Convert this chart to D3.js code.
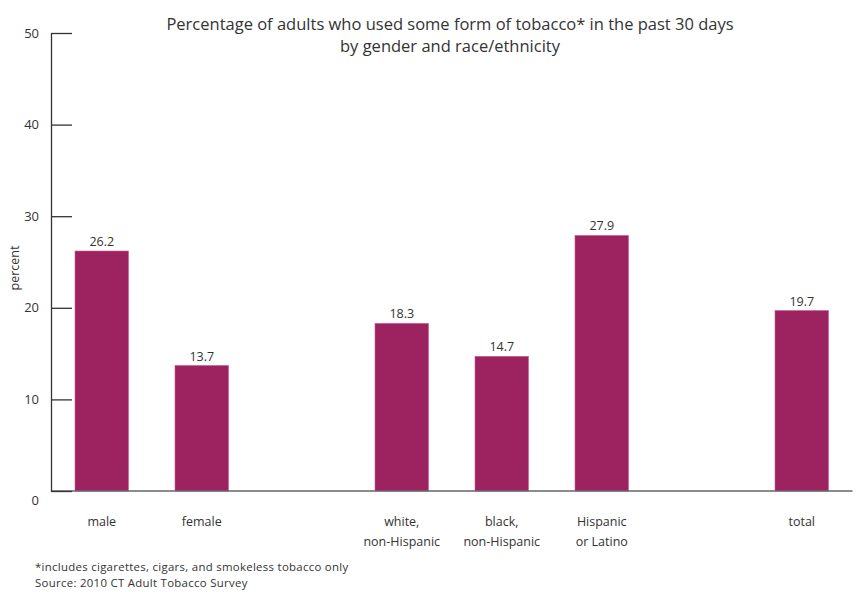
<!DOCTYPE html>
<html>
<head>
<meta charset="utf-8">
<script src="https://cdn.jsdelivr.net/npm/d3@7"></script>
<style>
  html, body { margin: 0; padding: 0; background: #fff; }
  svg { display: block; font-family: "Open Sans", "Lato", sans-serif; }
</style>
</head>
<body>
<svg id="chart" width="857" height="592"></svg>
<script>
// ---- data ----
const categories = ["male", "female", "white,\nnon-Hispanic", "black,\nnon-Hispanic", "Hispanic\nor Latino", "total"];
const groups = ["gender", "gender", "race", "race", "race", "total"];
const values = [26.2, 13.7, 18.3, 14.7, 27.9, 19.7];
const yTicks = [0, 10, 20, 30, 40, 50];
const titleLines = ["Percentage of adults who used some form of tobacco* in the past 30 days", "by gender and race/ethnicity"];
const footnotes = ["*includes cigarettes, cigars, and smokeless tobacco only", "Source: 2010 CT Adult Tobacco Survey"];
const yLabel = "percent";

// slots: insert an empty slot between groups
const slots = [];
categories.forEach((c, i) => {
  if (i > 0 && groups[i] !== groups[i - 1]) slots.push("_gap" + i);
  slots.push(c);
});

const svg = d3.select("#chart");
const barColor = "#9c2360";
const textColor = "#333";

const x = d3.scaleBand().domain(slots).range([51, 852.5]).paddingInner(0.465).paddingOuter(0.24);
const y = d3.scaleLinear().domain([0, 50]).range([491, 33]);

// bars
svg.append("g").selectAll("rect").data(categories).join("rect")
  .attr("x", d => x(d))
  .attr("y", (d, i) => y(values[i]))
  .attr("width", x.bandwidth())
  .attr("height", (d, i) => y(0) - y(values[i]))
  .attr("fill", barColor)
  .attr("stroke", "#c06090")
  .attr("stroke-width", 0.6);

// value labels
svg.append("g").selectAll("text").data(categories).join("text")
  .attr("x", d => x(d) + x.bandwidth() / 2)
  .attr("y", (d, i) => y(values[i]) - 5)
  .attr("text-anchor", "middle")
  .attr("font-size", 12.5)
  .attr("fill", textColor)
  .text((d, i) => values[i].toFixed(1));

// x axis line
svg.append("line")
  .attr("x1", 51).attr("x2", 852.5)
  .attr("y1", y(0)).attr("y2", y(0))
  .attr("stroke", "#666").attr("stroke-width", 1.5);

// y axis
const yAxis = svg.append("g")
  .attr("transform", "translate(51,0)")
  .call(d3.axisLeft(y).tickValues(yTicks).tickFormat(d3.format("d")).tickSize(-21).tickSizeOuter(0).tickPadding(12));
yAxis.select(".domain").attr("stroke", "#333").attr("stroke-width", 1.3);
yAxis.selectAll(".tick line").attr("stroke", "#333").attr("stroke-width", 1.3);
yAxis.selectAll(".tick text")
  .attr("font-size", 13)
  .attr("font-family", "'Open Sans', sans-serif")
  .attr("fill", textColor)
  .attr("dy", d => d === 0 ? "1.05em" : "0.32em");

// category labels
svg.append("g").selectAll("text").data(categories).join("text")
  .attr("x", d => x(d) + x.bandwidth() / 2)
  .attr("y", 526)
  .attr("text-anchor", "middle")
  .attr("font-size", 12.5)
  .attr("fill", textColor)
  .each(function (d) {
    const t = d3.select(this);
    d.split("\n").forEach((line, k) => {
      t.append("tspan").attr("x", x(d) + x.bandwidth() / 2).attr("dy", k === 0 ? 0 : 20).text(line);
    });
  });

// y label
svg.append("text")
  .attr("transform", "translate(19,268) rotate(-90)")
  .attr("text-anchor", "middle")
  .attr("font-size", 12.5)
  .attr("fill", textColor)
  .text(yLabel);

// title
svg.append("g").selectAll("text").data(titleLines).join("text")
  .attr("x", 450)
  .attr("y", (d, i) => 30 + i * 22)
  .attr("text-anchor", "middle")
  .attr("font-size", 16.5)
  .attr("fill", textColor)
  .text(d => d);

// footnotes
svg.append("g").selectAll("text").data(footnotes).join("text")
  .attr("x", 35)
  .attr("y", (d, i) => 571 + i * 16)
  .attr("font-size", 11.4)
  .attr("letter-spacing", 0.3)
  .attr("fill", textColor)
  .text(d => d);
</script>
</body>
</html>
